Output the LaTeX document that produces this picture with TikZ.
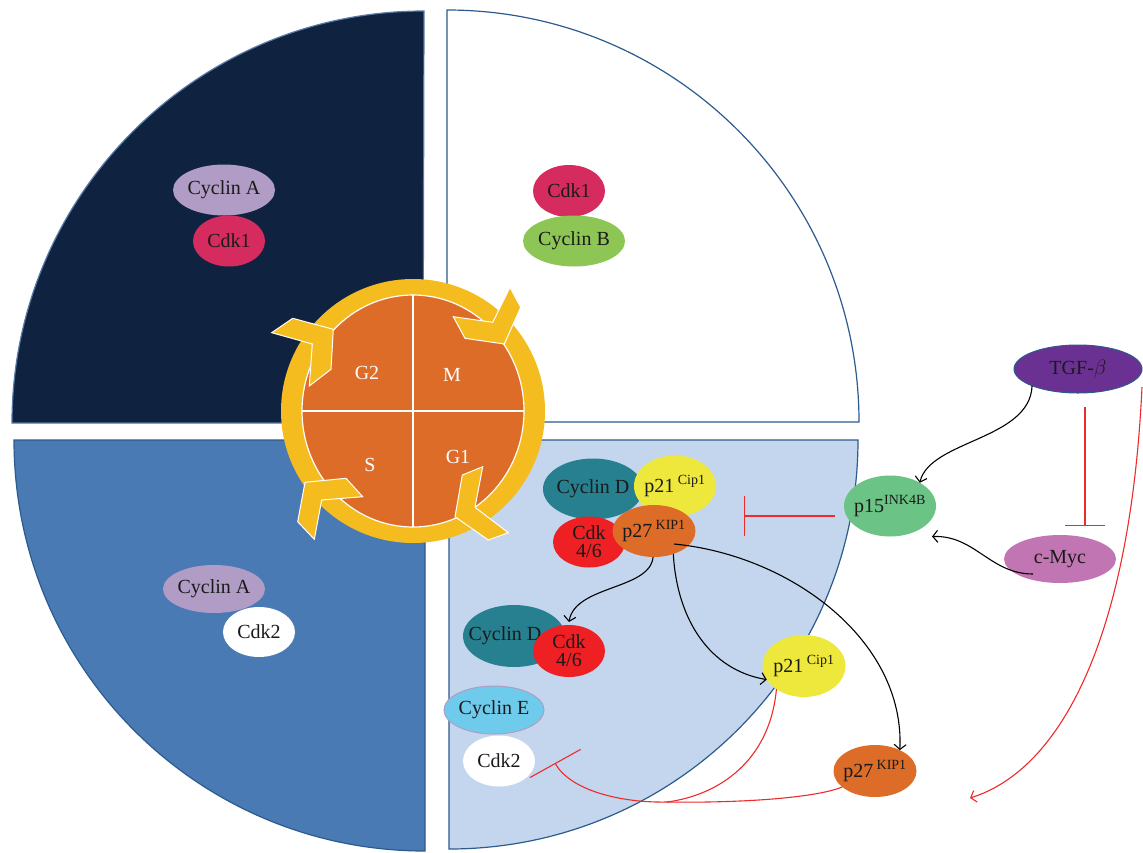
\documentclass[tikz,border=0pt]{standalone}
\usepackage{fontspec}
\setmainfont{Liberation Serif}
\usetikzlibrary{shapes.geometric,arrows.meta}
\definecolor{navy}{HTML}{0F2341}
\definecolor{navyedge}{HTML}{5A7AA8}
\definecolor{qedge}{HTML}{2C5B8E}
\definecolor{qbl}{HTML}{4A7AB4}
\definecolor{qbr}{HTML}{C4D6EE}
\definecolor{ring}{HTML}{F5BC1F}
\definecolor{core}{HTML}{DC6C27}
\definecolor{lilac}{HTML}{B09CC5}
\definecolor{crimson}{HTML}{D62B5E}
\definecolor{leaf}{HTML}{8DC655}
\definecolor{teal2}{HTML}{26808F}
\definecolor{pyel}{HTML}{EEE83C}
\definecolor{cred}{HTML}{EE2024}
\definecolor{cyanE}{HTML}{6ECBEC}
\definecolor{purp}{HTML}{6A3193}
\definecolor{pgreen}{HTML}{6CC386}
\definecolor{pink2}{HTML}{C275B3}
\definecolor{redline}{HTML}{EE2A2A}
\definecolor{ink}{HTML}{1A1A1A}
\begin{document}
\begin{tikzpicture}[x=1pt,y=1pt,
  mol/.style={ellipse, inner xsep=-16pt, inner ysep=-9pt, outer sep=0pt, text=ink, font=\fontsize{20}{18}\selectfont, align=center},
  phase/.style={text=white, font=\fontsize{20}{20}\selectfont},
  chev/.style={fill=ring, draw=white, line width=1pt, line join=miter},
  arr/.style={draw=black, line width=1.1pt, -{Straight Barb[length=5pt,width=12pt]}},
  inhib/.style={draw=redline, line width=1.1pt},
  redarr/.style={draw=redline, line width=1.1pt, -{Straight Barb[length=5pt,width=12pt]}}]
\useasboundingbox (0,0) rectangle (1143,-852);
% quadrants
\fill[navy] (12,-423) arc[start angle=180,end angle=90,radius=412] -- (423,-423) -- cycle;
\draw[navyedge, line width=1.2pt] (12,-423) arc[start angle=180,end angle=90,radius=412] -- (423,-423) -- cycle;
\draw[qedge, fill=white, line width=1.2pt] (447,-10) arc[start angle=90,end angle=0,radius=412] -- (447,-422) -- cycle;
\draw[qedge, fill=qbl, line width=1.2pt] (14,-440) arc[start angle=180,end angle=270,radius=411] -- (425,-440) -- cycle;
\draw[qedge, fill=qbr, line width=1.2pt] (858,-440) arc[start angle=0,end angle=-90,radius=409] -- (449,-440) -- cycle;
% cell cycle wheel
\fill[ring] (413,-411) circle[radius=132];
\draw[white, fill=core, line width=1.2pt] (413,-411) ellipse[x radius=111, y radius=116];
\draw[white, line width=1.2pt] (413,-295) -- (413,-527);
\draw[white, line width=1.2pt] (302,-411) -- (524,-411);
\node[phase] (g2) at (367,-373) {G2};
\node[phase] (m) at (452,-375) {M};
\node[phase] (s) at (370,-465) {S};
\node[phase] (g1) at (458,-457) {G1};
\draw[chev] (292.7,-318.3) -- (333.3,-329.3) -- (331,-369.3) -- (309.3,-386) -- (312.3,-344) -- (271.7,-332.7) -- cycle;
\draw[chev] (453.3,-316.7) -- (492.7,-322.3) -- (510,-287.3) -- (520.7,-307.3) -- (504.3,-344) -- (465,-338.3) -- cycle;
\draw[chev] (462.3,-475) -- (482.7,-466.7) -- (475,-507.3) -- (508.3,-532.7) -- (488.3,-540) -- (455,-516.7) -- cycle;
\draw[chev] (297.7,-521.7) -- (305,-482.3) -- (346,-478.3) -- (362.7,-496.7) -- (321.7,-500) -- (314.3,-539.3) -- cycle;
% top-left
\node[mol, fill=lilac, minimum width=102pt, minimum height=51pt] (cyA1) at (224,-190) {Cyclin A};
\node[mol, fill=crimson, minimum width=72pt, minimum height=51pt] (cdk1a) at (229,-241) {Cdk1};
% top-right
\node[mol, fill=crimson, minimum width=72pt, minimum height=52pt] (cdk1b) at (569,-191) {Cdk1};
\node[mol, fill=leaf, minimum width=102pt, minimum height=51pt] (cyB) at (574,-241) {Cyclin B};
% bottom-left
\node[mol, fill=lilac, minimum width=102pt, minimum height=48pt] (cyA2) at (214,-589) {Cyclin A};
\node[mol, fill=white, minimum width=72pt, minimum height=50pt] (cdk2a) at (259,-632) {Cdk2};
% bottom-right complex
\node[mol, fill=teal2, minimum width=100pt, minimum height=61pt] (cyD1) at (593,-489) {Cyclin D};
\node[mol, fill=pyel, minimum width=82pt, minimum height=61pt] (p21a) at (675,-486) {p21\,\textsuperscript{Cip1}};
\node[mol, fill=cred, minimum width=72pt, minimum height=51pt] (cdk46a) at (589,-542) {Cdk\\4/6};
\node[mol, fill=core, minimum width=83pt, minimum height=52pt] (p27a) at (654,-531) {p27\,\textsuperscript{KIP1}};
\node[mol, fill=teal2, minimum width=102pt, minimum height=62pt, label={[text=ink, font=\fontsize{20}{20}\selectfont, xshift=-9pt]center:Cyclin D}] (cyD2) at (514,-636) {};
\node[mol, fill=cred, minimum width=72pt, minimum height=52pt] (cdk46b) at (569,-651) {Cdk\\4/6};
\node[mol, fill=cyanE, draw=lilac, line width=1pt, minimum width=100pt, minimum height=48pt] (cyE) at (494,-710) {Cyclin E};
\node[mol, fill=white, minimum width=72pt, minimum height=51pt] (cdk2b) at (499,-761) {Cdk2};
\node[mol, fill=pyel, minimum width=83pt, minimum height=62pt] (p21b) at (804,-666) {p21\,\textsuperscript{Cip1}};
\node[mol, fill=core, minimum width=83pt, minimum height=52pt] (p27b) at (875,-771) {p27\,\textsuperscript{KIP1}};
% right side regulators
\node[mol, fill=purp, draw=qedge, line width=1pt, minimum width=128pt, minimum height=48pt] (tgf) at (1078,-369) {TGF-$\beta$};
\node[mol, fill=pgreen, minimum width=92pt, minimum height=61pt] (p15) at (890,-506) {p15\textsuperscript{INK4B}};
\node[mol, fill=pink2, minimum width=112pt, minimum height=48pt] (myc) at (1060,-559) {c-Myc};
\coordinate (barA) at (744,-516);
\coordinate (J) at (667,-802);
\coordinate (tgfTarget) at (970,-798);
% black arrows
\draw[arr] (p27a.268) .. controls (650,-590) and (575,-585) .. ([yshift=3pt]cdk46b.north);
\draw[arr] (p27a.310) .. controls (677,-620) and (710,-670) .. (p21b.200);
\draw[arr] ([xshift=20pt,yshift=-13pt]p27a.center) .. controls (790,-555) and (905,-640) .. (p27b.40);
\draw[arr] (tgf.200) .. controls (1030,-440) and (930,-440) .. (p15.38);
\draw[arr] ([xshift=-27pt,yshift=-15pt]myc.center) .. controls (990,-574) and (975,-535) .. ([xshift=11pt,yshift=-8pt]p15.-36);
% red inhibitions
\draw[inhib, -{Bar[width=40pt]}] ([yshift=-10pt]p15.west) ++(-9,0) -- (barA);
\draw[inhib, -{Bar[width=40pt]}] ([xshift=7pt,yshift=-14pt]tgf.south) -- ([xshift=25pt,yshift=9pt]myc.north);
\draw[redarr] ([yshift=-18pt]tgf.east) .. controls (1130,-640) and (1060,-770) .. (tgfTarget);
\draw[inhib] (p21b.220) .. controls (770,-760) and (720,-795) .. (J);
\draw[inhib] (p27b.206) .. controls (810,-800) and (720,-803) .. (J);
\draw[inhib, -{Bar[width=58pt]}] (J) .. controls (620,-803) and (570,-790) .. ([xshift=20pt,yshift=-2pt]cdk2b.east);
\end{tikzpicture}
\end{document}
